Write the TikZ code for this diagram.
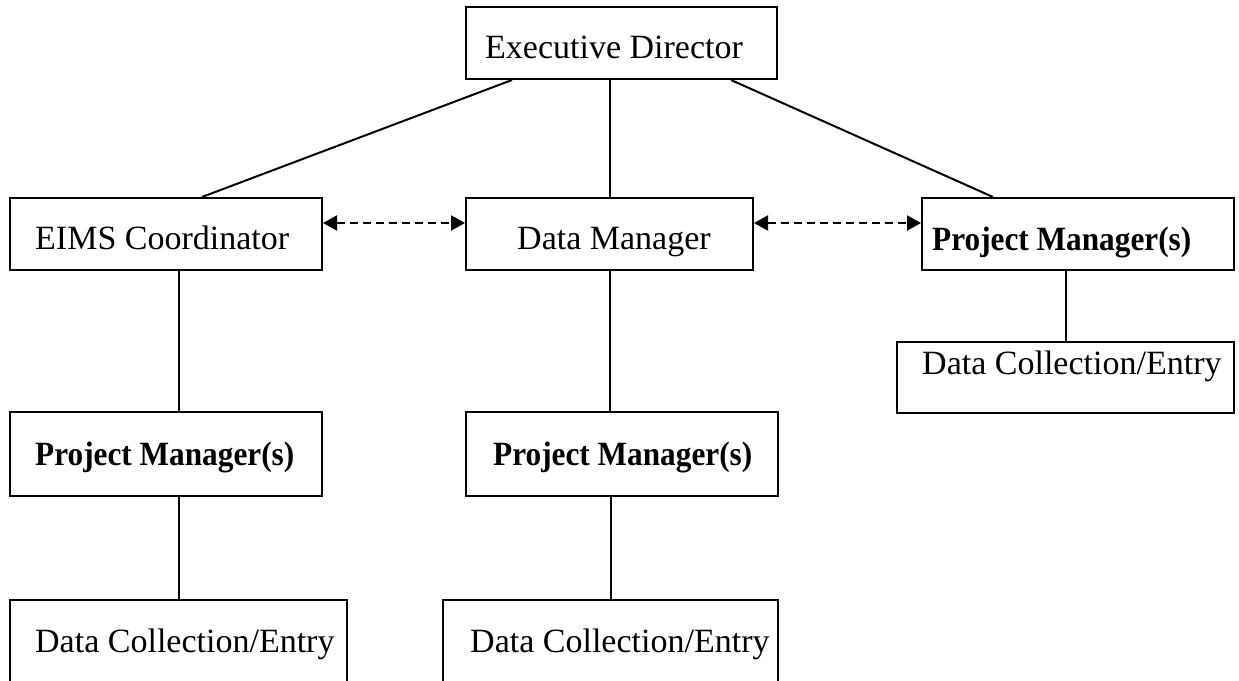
\documentclass[tikz,border=0pt]{standalone}
\usepackage{fontspec}
\usepackage{graphicx}
\setmainfont{Liberation Serif}
\usetikzlibrary{arrows.meta}

\tikzset{
  box/.style={draw, line width=2pt, rectangle, inner sep=0pt, anchor=center},
  lbl/.style={inner sep=0pt, anchor=base west, font=\fontsize{34}{38}\selectfont},
  boldlbl/.style={inner sep=0pt, anchor=base west, font=\fontsize{34}{38}\selectfont\bfseries},
  link/.style={line width=2pt},
  peer/.style={line width=2pt, dash pattern=on 8pt off 5pt,
    {Triangle[length=14pt,width=15pt]}-{Triangle[length=14pt,width=15pt]}}
}
\newcommand{\bname}[1]{\scalebox{0.92}[1]{#1}}

\begin{document}
\begin{tikzpicture}[x=1pt,y=-1pt]
  \useasboundingbox (0,0) rectangle (1239,680);

  % boxes
  \node[box, minimum width=311pt, minimum height=72pt] (exec) at (621.5,43) {};
  \node[box, minimum width=312pt, minimum height=72pt] (eims) at (166,234) {};
  \node[box, minimum width=287pt, minimum height=72pt] (dm)   at (609.5,234) {};
  \node[box, minimum width=312pt, minimum height=72pt] (pmr)  at (1078,234) {};
  \node[box, minimum width=337pt, minimum height=71pt] (dcer) at (1065.5,377.5) {};
  \node[box, minimum width=312pt, minimum height=84pt] (pml)  at (166,454) {};
  \node[box, minimum width=312pt, minimum height=84pt] (pmm)  at (622,454) {};
  \node[box, minimum width=337pt, minimum height=110pt] (dcel) at (178.5,655) {};
  \node[box, minimum width=335pt, minimum height=110pt] (dcem) at (610.5,655) {};

  % labels
  \node[lbl] (t-exec) at (485,58) {Executive Director};
  \node[lbl] (t-eims) at (35,249) {EIMS Coordinator};
  \node[lbl] (t-dm)   at (517,249) {Data Manager};
  \node[boldlbl] (t-pmr) at (932,250) {\bname{Project Manager(s)}};
  \node[lbl] (t-dcer) at (922,374) {Data Collection/Entry};
  \node[boldlbl] (t-pml) at (35,465) {\bname{Project Manager(s)}};
  \node[boldlbl] (t-pmm) at (493,465) {\bname{Project Manager(s)}};
  \node[lbl] (t-dcel) at (35,652) {Data Collection/Entry};
  \node[lbl] (t-dcem) at (470,652) {Data Collection/Entry};

  % reporting lines
  \draw[link] ([xshift=47pt]exec.south west) -- ([xshift=36pt]eims.north);
  \draw[link] (exec.south -| dm.north) -- (dm.north);
  \draw[link] ([xshift=-47pt]exec.south east) -- ([xshift=-85pt]pmr.north);
  \draw[link] (eims.south -| dcel.north) -- (pml.north -| dcel.north);
  \draw[link] (pml.south -| dcel.north) -- (dcel.north);
  \draw[link] (dm.south) -- (pmm.north -| dm.south);
  \draw[link] (pmm.south -| dcem.north) -- (dcem.north);
  \draw[link] (pmr.south -| dcer.north) -- (dcer.north);

  % peer links
  \draw[peer] ([yshift=11pt]eims.east) -- ([yshift=11pt]dm.west);
  \draw[peer] ([yshift=11pt]dm.east) -- ([yshift=11pt]pmr.west);
\end{tikzpicture}
\end{document}
